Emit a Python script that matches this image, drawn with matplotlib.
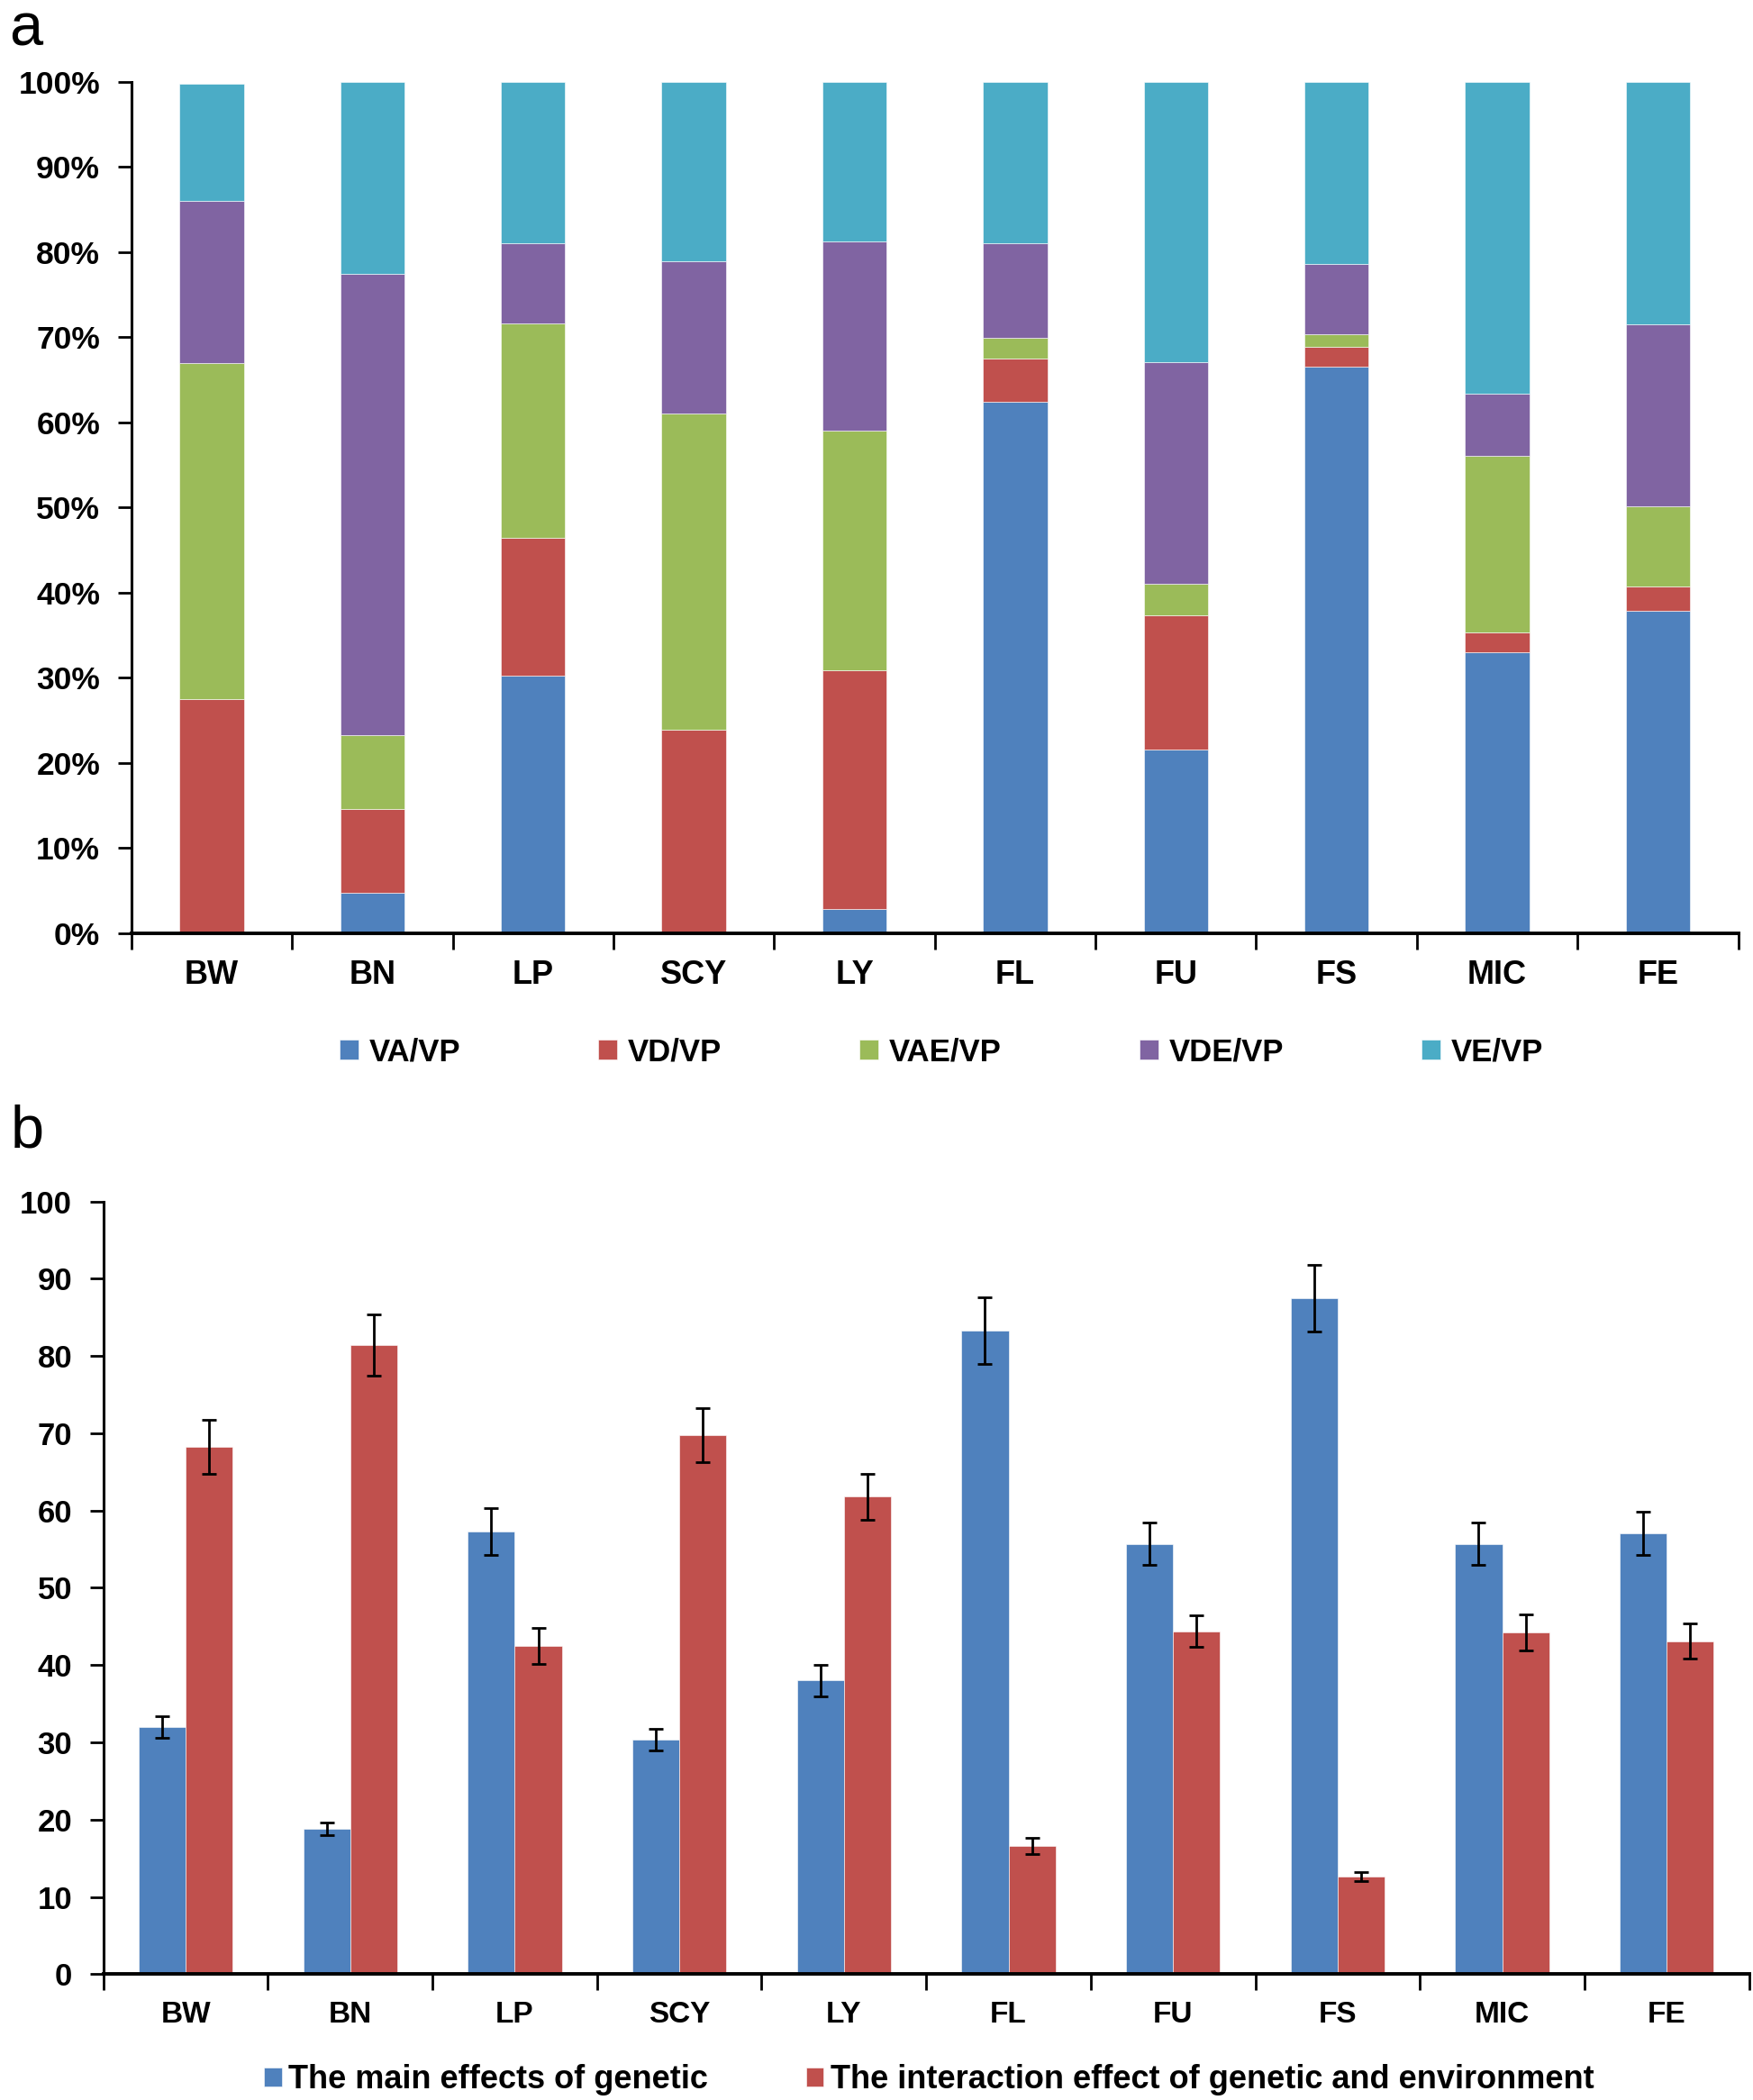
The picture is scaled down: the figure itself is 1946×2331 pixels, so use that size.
import numpy as np
import matplotlib
matplotlib.use('Agg')
import matplotlib.pyplot as plt
from matplotlib.ticker import FixedLocator, FuncFormatter

plt.rcParams['font.family'] = ['Liberation Sans', 'DejaVu Sans']
plt.rcParams['font.weight'] = 'bold'

traits = ['BW', 'BN', 'LP', 'SCY', 'LY', 'FL', 'FU', 'FS', 'MIC', 'FE']

# panel a: variance components, % of VP
va = [0, 4.8, 30.3, 0, 2.8, 62.4, 21.6, 66.5, 33.0, 37.9]
vd = [27.5, 9.8, 16.1, 23.9, 28.1, 5.1, 15.7, 2.4, 2.3, 2.8]
vae = [39.5, 8.7, 25.2, 37.1, 28.1, 2.4, 3.7, 1.5, 20.8, 9.4]
vde = [19.0, 54.2, 9.4, 17.9, 22.3, 11.1, 26.1, 8.2, 7.3, 21.4]
ve = [13.8, 22.5, 19.0, 21.1, 18.7, 19.0, 32.9, 21.4, 36.6, 28.5]
comp_labels = ['VA/VP', 'VD/VP', 'VAE/VP', 'VDE/VP', 'VE/VP']
comp_colors = ['#4F81BD', '#C0504D', '#9BBB59', '#8064A2', '#4BACC6']

# panel b: main genetic vs GxE interaction effects
main_eff = [32.0, 18.8, 57.3, 30.4, 38.0, 83.3, 55.7, 87.5, 55.7, 57.0]
main_err = [1.4, 0.8, 3.0, 1.4, 2.0, 4.3, 2.7, 4.3, 2.7, 2.8]
inter_eff = [68.2, 81.4, 42.5, 69.8, 61.8, 16.6, 44.4, 12.6, 44.2, 43.1]
inter_err = [3.5, 4.0, 2.3, 3.5, 3.0, 1.0, 2.0, 0.6, 2.3, 2.3]
eff_labels = ['The main effects of genetic',
              'The interaction effect of genetic and environment']

fig = plt.figure(figsize=(19.46, 23.31), dpi=100)

def style_axes(ax, n, ylab_fmt, fs_tick, fs_cat, cat_pad):
    for s in ['top', 'right']:
        ax.spines[s].set_visible(False)
    ax.spines['left'].set_linewidth(2.2)
    ax.spines['bottom'].set_linewidth(2.8)
    ax.set_xlim(-0.5, n - 0.5)
    ax.xaxis.set_major_locator(FixedLocator(np.arange(-0.5, n, 1.0)))
    ax.xaxis.set_major_formatter(FuncFormatter(lambda v, p: ''))
    ax.xaxis.set_minor_locator(FixedLocator(np.arange(n)))
    ax.set_xticklabels(traits, minor=True)
    ax.tick_params(axis='x', which='major', direction='out', length=13, width=2)
    ax.tick_params(axis='x', which='minor', length=0, pad=cat_pad, labelsize=fs_cat)
    ax.tick_params(axis='y', direction='out', length=11, width=2, pad=14, labelsize=fs_tick)
    ax.set_ylim(0, 100)
    ax.set_yticks(np.arange(0, 101, 10))
    ax.yaxis.set_major_formatter(FuncFormatter(ylab_fmt))

# ---- panel a
ax1 = fig.add_axes([0.0749, 0.5556, 0.9167, 0.4054])
x = np.arange(len(traits))
bottom = np.zeros(len(traits))
handles = []
for vals, lab, col in zip([va, vd, vae, vde, ve], comp_labels, comp_colors):
    h = ax1.bar(x, vals, width=0.4, bottom=bottom, color=col, label=lab,
                edgecolor='white', linewidth=0.4)
    handles.append(h)
    bottom = bottom + np.array(vals)
style_axes(ax1, len(traits), lambda v, p: '%d%%' % v, 25.5, 26, 21)
fig.text(0.005, 0.999, 'a', fontsize=48, fontweight='normal', va='top', ha='left')
fig.legend(handles=handles, labels=comp_labels, loc='center', ncol=5,
           bbox_to_anchor=(0.537, 0.499), frameon=False, fontsize=25,
           handlelength=0.6, handleheight=0.6, handletextpad=0.35, columnspacing=4.4)

# ---- panel b
ax2 = fig.add_axes([0.059, 0.0599, 0.9387, 0.368])
w = 0.285
ekw = dict(elinewidth=2, capthick=2, ecolor='black')
hb1 = ax2.bar(x - w / 2, main_eff, width=w, color='#4F81BD', yerr=main_err,
              capsize=6, error_kw=ekw, edgecolor='white', linewidth=0.4)
hb2 = ax2.bar(x + w / 2, inter_eff, width=w, color='#C0504D', yerr=inter_err,
              capsize=6, error_kw=ekw, edgecolor='white', linewidth=0.4)
style_axes(ax2, len(traits), lambda v, p: '%d' % v, 25, 24, 21)
fig.text(0.006, 0.4535, 'b', fontsize=48, fontweight='normal', va='baseline', ha='left')
fig.legend(handles=[hb1, hb2], labels=eff_labels, loc='center', ncol=2,
           bbox_to_anchor=(0.53, 0.0095), frameon=False, fontsize=26,
           handlelength=0.55, handleheight=0.55, handletextpad=0.2, columnspacing=3.0)

fig.savefig('out.png', dpi=100)
